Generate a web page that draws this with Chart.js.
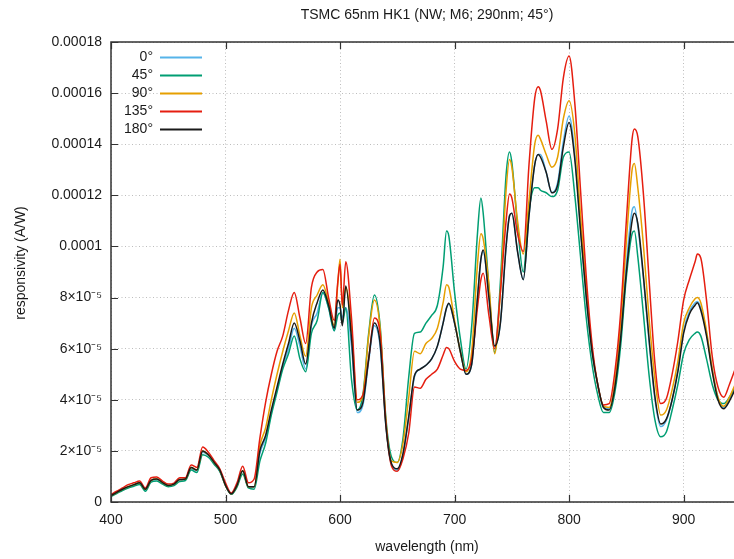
<!DOCTYPE html>
<html>
<head>
<meta charset="utf-8">
<script src="https://cdn.jsdelivr.net/npm/chart.js@4.4.0/dist/chart.umd.min.js"></script>
<style>
  html, body { margin: 0; padding: 0; background: #ffffff; }
  canvas { display: block; }
</style>
</head>
<body>
<canvas id="chart" width="734" height="559"></canvas>
<script>
// Wavelength grid (nm)
const wavelengths = [
  400,405,410,415,420,425,430,435,440,445,450,455,460,465,470,475,480,485,490,495,
  500,505,510,515,520,525,530,535,540,545,550,555,560,565,570,575,580,585,590,595,
  598,600,602,605,610,615,620,625,630,635,640,645,650,655,660,665,670,675,680,685,
  690,693,695,700,705,710,715,720,723,725,730,735,740,745,748,750,755,760,765,770,
  773,775,780,785,790,795,800,805,810,815,820,825,830,835,840,845,850,855,857,860,
  865,870,875,880,885,890,895,900,905,910,912,915,920,925,930,935,940,945
];

// Responsivity per incidence angle, in units of 1e-5 A/W
const resp0 = [
  .25,.37,.48,.58,.66,.72,.48,.82,.88,.74,.63,.68,.86,.88,1.3,1.22,1.95,1.82,1.52,1.22,
  .65,.3,.62,1.2,.58,.58,1.9,2.5,3.5,4.4,5.3,6.0,6.8,6.1,5.2,6.9,7.4,8.2,7.6,6.7,
  7.6,7.6,7.2,7.6,6.1,3.5,3.8,5.5,6.9,6.1,3.0,1.45,1.25,1.85,3.3,4.9,5.2,5.35,5.6,6.1,
  7.0,7.6,7.75,7.0,5.9,5.0,5.4,8.0,9.5,9.8,8.0,6.1,7.0,10.0,11.2,11.3,9.8,8.7,11.2,13.2,
  13.6,13.6,12.9,12.1,12.5,14.1,15.1,13.6,10.7,8.0,5.9,4.6,3.7,3.65,4.6,6.6,9.3,11.4,11.55,10.8,
  8.7,6.2,4.0,2.95,3.2,4.0,5.2,6.7,7.45,7.8,7.85,7.6,6.6,5.2,4.1,3.7,4.0,4.5
];
const resp45 = [
  .22,.33,.45,.55,.62,.68,.42,.78,.82,.7,.6,.64,.8,.84,1.25,1.15,1.85,1.75,1.48,1.2,
  .65,.3,.58,1.1,.55,.5,1.6,2.3,3.4,4.3,5.2,5.8,6.5,5.6,5.1,6.6,7.1,8.2,7.6,6.7,
  7.3,7.4,7.0,7.6,4.8,3.6,4.2,6.6,8.1,6.9,3.3,1.75,1.55,2.5,4.9,6.6,6.65,7.0,7.3,7.7,
  9.2,10.6,10.4,8.2,6.4,5.2,6.9,10.5,11.9,11.3,8.4,5.85,8.6,12.8,13.7,13.3,10.8,9.0,11.4,12.3,
  12.3,12.2,12.1,11.95,12.2,13.5,13.7,12.0,9.6,7.2,5.4,4.2,3.5,3.5,4.3,6.1,8.8,10.5,10.6,9.6,
  7.3,4.9,3.2,2.55,2.75,3.6,4.6,5.8,6.35,6.6,6.65,6.5,5.6,4.6,4.0,3.85,4.1,4.5
];
const resp90 = [
  .25,.38,.5,.6,.68,.75,.5,.85,.9,.76,.65,.7,.88,.9,1.35,1.25,2.0,1.85,1.55,1.25,
  .65,.32,.65,1.22,.6,.6,2.2,2.9,4.0,5.0,5.9,6.7,7.4,6.5,5.7,7.6,8.1,8.5,7.8,6.9,
  8.5,9.5,7.6,8.4,6.8,3.9,4.2,6.5,7.9,6.8,3.2,1.6,1.55,2.3,4.1,5.9,5.8,6.2,6.4,6.8,
  7.8,8.5,8.4,7.1,5.9,5.1,5.9,9.3,10.5,10.3,8.5,5.8,8.2,12.2,13.4,13.1,11.0,9.7,11.8,14.0,
  14.35,14.2,13.6,13.1,13.5,15.0,15.7,14.4,11.2,8.3,6.0,4.6,3.75,3.7,4.7,7.0,10.2,13.0,13.25,12.3,
  10.0,7.1,4.8,3.4,3.6,4.4,5.5,7.0,7.6,7.95,8.0,7.8,6.7,5.2,4.1,3.75,4.1,4.6
];
const resp135 = [
  .3,.42,.55,.68,.75,.82,.55,.95,.98,.82,.7,.74,.95,.95,1.45,1.35,2.15,1.95,1.62,1.3,
  .75,.35,.75,1.4,.75,.9,2.5,3.9,5.0,5.9,6.5,7.5,8.2,7.2,6.2,8.4,9.0,9.1,8.0,7.1,
  8.6,9.3,7.7,9.4,7.2,4.0,4.2,5.6,7.2,6.6,3.1,1.4,1.2,1.7,2.7,4.5,4.45,4.8,5.0,5.2,
  5.75,6.05,6.0,5.5,5.2,5.15,5.6,7.6,8.7,8.95,7.3,6.0,8.2,11.0,12.05,11.9,10.5,9.8,13.2,15.8,
  16.25,16.1,14.9,13.8,14.6,16.6,17.45,15.6,12.2,8.8,6.2,4.6,3.8,3.85,5.1,7.4,11.0,14.2,14.6,14.3,
  12.0,8.6,5.4,3.85,4.05,5.0,6.3,7.9,8.7,9.4,9.7,9.55,7.9,5.7,4.5,4.1,4.6,5.2
];
const resp180 = [
  .25,.38,.5,.6,.68,.75,.5,.85,.9,.76,.65,.7,.88,.9,1.35,1.25,2.0,1.85,1.55,1.25,
  .65,.32,.65,1.22,.6,.6,2.0,2.6,3.6,4.5,5.4,6.2,7.0,6.3,5.4,7.0,7.8,8.3,7.7,6.8,
  7.9,7.7,6.9,8.45,6.4,3.6,3.9,5.6,7.0,6.2,3.0,1.5,1.3,1.9,3.35,4.95,5.2,5.35,5.6,6.1,
  7.0,7.6,7.78,7.0,5.9,5.0,5.4,8.0,9.5,9.86,8.0,6.1,7.0,10.0,11.2,11.3,9.8,8.7,11.2,13.2,
  13.6,13.5,12.9,12.1,12.4,13.9,14.85,13.4,10.6,8.0,5.9,4.6,3.7,3.6,4.5,6.4,9.0,11.0,11.3,10.9,
  8.8,6.3,4.1,3.05,3.25,4.0,5.1,6.6,7.35,7.7,7.8,7.5,6.5,5.1,4.0,3.65,3.95,4.4
];

const seriesLabels = ['0°', '45°', '90°', '135°', '180°'];
const seriesValues = [resp0, resp45, resp90, resp135, resp180];
const seriesColors = ['#56b4e9', '#009e73', '#e69f00', '#e51e10', '#1a1a1a'];

const xTicks = [400, 500, 600, 700, 800, 900];
const yTicks = [0, 2e-5, 4e-5, 6e-5, 8e-5, 1e-4, 1.2e-4, 1.4e-4, 1.6e-4, 1.8e-4];
const yTickLabels = ['0', '2×10⁻⁵', '4×10⁻⁵', '6×10⁻⁵', '8×10⁻⁵', '0.0001', '0.00012', '0.00014', '0.00016', '0.00018'];

const titleText = 'TSMC 65nm HK1 (NW; M6; 290nm; 45°)';
const xTitle = 'wavelength (nm)';
const yTitle = 'responsivity (A/W)';

const FONT = '"Liberation Sans", Arial, Helvetica, sans-serif';
const TEXT_COLOR = '#1a1a1a';

const datasets = seriesValues.map((vals, i) => ({
  label: seriesLabels[i],
  data: wavelengths.map((w, k) => ({ x: w, y: vals[k] * 1e-5 })),
  borderColor: seriesColors[i],
  borderWidth: 1.5,
  pointRadius: 0,
  fill: false,
  cubicInterpolationMode: 'monotone',
  order: seriesValues.length - 1 - i
}));

// Frame, inward ticks, titles and in-plot key
const decor = {
  id: 'decor',
  afterDatasetsDraw(chart) {
    const { ctx, chartArea: a, scales: { x, y } } = chart;
    ctx.save();
    ctx.strokeStyle = '#333333';
    ctx.lineWidth = 1.5;
    ctx.beginPath();
    ctx.moveTo(a.right + 2, a.top);
    ctx.lineTo(a.left, a.top);
    ctx.lineTo(a.left, a.bottom);
    ctx.lineTo(a.right + 2, a.bottom);
    ctx.stroke();
    ctx.lineWidth = 1.2;
    ctx.beginPath();
    xTicks.forEach(v => {
      const px = Math.round(x.getPixelForValue(v)) + 0.5;
      ctx.moveTo(px, a.bottom); ctx.lineTo(px, a.bottom - 7);
      ctx.moveTo(px, a.top); ctx.lineTo(px, a.top + 7);
    });
    yTicks.forEach(v => {
      const py = Math.round(y.getPixelForValue(v)) + 0.5;
      ctx.moveTo(a.left, py); ctx.lineTo(a.left + 7, py);
    });
    ctx.stroke();

    // key
    ctx.font = '14px ' + FONT;
    ctx.textAlign = 'right';
    ctx.textBaseline = 'middle';
    seriesLabels.forEach((lab, i) => {
      const ky = 57 + i * 18;
      ctx.fillStyle = TEXT_COLOR;
      ctx.fillText(lab, 153, ky);
      ctx.strokeStyle = seriesColors[i];
      ctx.lineWidth = 2;
      ctx.beginPath();
      ctx.moveTo(160, ky + 0.5);
      ctx.lineTo(202, ky + 0.5);
      ctx.stroke();
    });
    ctx.restore();
  },
  afterDraw(chart) {
    const { ctx } = chart;
    ctx.save();
    ctx.fillStyle = TEXT_COLOR;
    ctx.font = '14px ' + FONT;
    ctx.textAlign = 'center';
    ctx.textBaseline = 'middle';
    ctx.fillText(titleText, 427, 15);
    ctx.fillText(xTitle, 427, 547);
    ctx.translate(21, 263);
    ctx.rotate(-Math.PI / 2);
    ctx.fillText(yTitle, 0, 0);
    ctx.restore();
  }
};

new Chart(document.getElementById('chart'), {
  type: 'line',
  data: { datasets },
  options: {
    responsive: false,
    animation: false,
    devicePixelRatio: 1,
    layout: { padding: { top: 42, left: 0, right: 0, bottom: 0 } },
    plugins: { legend: { display: false }, title: { display: false }, tooltip: { enabled: false } },
    scales: {
      x: {
        type: 'linear',
        min: 400,
        max: 944,
        afterBuildTicks: s => { s.ticks = xTicks.map(v => ({ value: v })); },
        afterFit: s => { s.height = 57; },
        grid: { color: '#bdbdbd', lineWidth: 1, drawTicks: false },
        border: { display: false, dash: [1, 2.5] },
        ticks: { autoSkip: false, maxRotation: 0, padding: 10, color: TEXT_COLOR, font: { family: FONT, size: 14 } }
      },
      y: {
        type: 'linear',
        min: 0,
        max: 1.8e-4,
        afterBuildTicks: s => { s.ticks = yTicks.map(v => ({ value: v })); },
        afterFit: s => { s.width = 111; },
        grid: { color: '#bdbdbd', lineWidth: 1, drawTicks: false },
        border: { display: false, dash: [1, 2.5] },
        ticks: {
          padding: 9,
          color: TEXT_COLOR,
          font: { family: FONT, size: 14 },
          callback: (v, i) => yTickLabels[i]
        }
      }
    }
  },
  plugins: [decor]
});
</script>
</body>
</html>
